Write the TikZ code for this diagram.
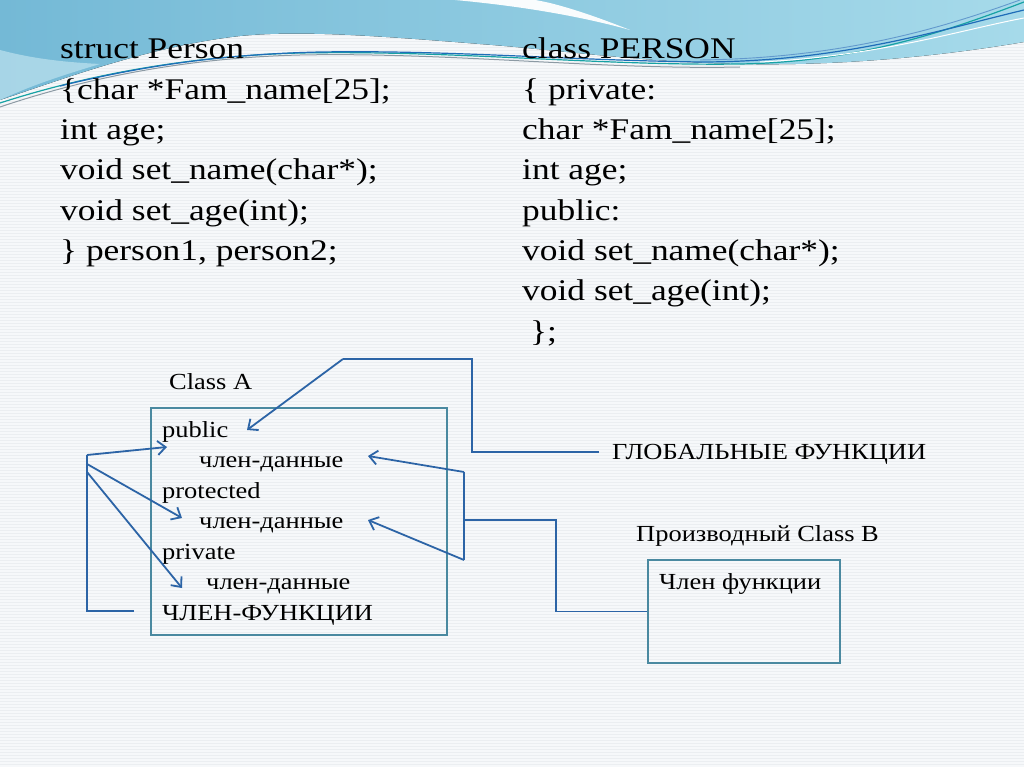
\documentclass[tikz,border=0pt]{standalone}
\usepackage{fontspec}
\setmainfont{Liberation Serif}[FakeStretch=1.15]
\newfontfamily\codefont{Liberation Serif}[FakeStretch=1.18]
\usetikzlibrary{arrows.meta,calc}
\definecolor{bg}{HTML}{F6F8FA}
\definecolor{bgline}{HTML}{EBEEF1}
\definecolor{boxc}{HTML}{4A89A0}
\definecolor{arrc}{HTML}{2C64A6}
\definecolor{waveA}{HTML}{74B9D6}
\definecolor{waveB}{HTML}{A6DAEA}
\definecolor{tealc}{HTML}{17A2A4}
\definecolor{bluec}{HTML}{1F6DB8}
\definecolor{grayc}{HTML}{8C9AA4}
\tikzset{
  code/.style={anchor=base west, inner sep=0pt, font=\codefont\fontsize{30}{36}\selectfont},
  small/.style={anchor=base west, inner sep=0pt, font=\fontsize{23}{28}\selectfont},
  boxA/.style={draw=boxc, line width=1.6pt, inner sep=0pt},
  conn/.style={draw=arrc, line width=1.8pt},
  arr/.style={conn, -{Straight Barb[length=8pt,width=14pt,line width=1.8pt]}},
}
\begin{document}
\begin{tikzpicture}[x=1pt,y=-1pt]
\useasboundingbox (0,0) rectangle (1024,767);
% background
\fill[bg] (0,0) rectangle (1024,767);
\foreach \yy in {2,5,...,767} \draw[bgline,line width=0.6pt] (0,\yy) -- (1024,\yy);
% wave
\fill[left color=waveA, right color=waveB]
  (0,0) -- (1024,0) -- (1024,42)
  .. controls (930,58) and (830,66) .. (740,64)
  .. controls (640,62) and (560,50) .. (480,44)
  .. controls (380,36) and (300,30) .. (240,36)
  .. controls (150,46) and (60,80) .. (0,100) -- cycle;
\fill[waveB!60!white, opacity=0.6] (0,100) .. controls (30,86) and (60,76) .. (100,64)
  .. controls (60,62) and (30,58) .. (0,50) -- cycle;
\fill[white, opacity=0.95] (455,0) .. controls (520,6) and (580,16) .. (630,30)
  .. controls (590,14) and (555,3) .. (535,0) -- cycle;
\draw[grayc, line width=1pt] (0,107) .. controls (80,80) and (180,58) .. (300,55)
  .. controls (450,52) and (600,70) .. (740,67);
\draw[tealc, line width=1.2pt] (0,103) .. controls (90,74) and (190,56) .. (300,53)
  .. controls (450,50) and (600,66) .. (740,64)
  .. controls (860,62) and (950,30) .. (1024,2);
\draw[bluec, line width=1.2pt] (60,86) .. controls (150,64) and (230,54) .. (320,52)
  .. controls (450,50) and (560,60) .. (700,62)
  .. controls (840,62) and (940,30) .. (1024,10);
\draw[bluec!70!white, line width=0.9pt] (700,60) .. controls (850,58) and (950,25) .. (1020,0);
\draw[white, line width=1pt] (760,62) .. controls (880,56) and (960,30) .. (1024,18);

% top left code
\node[code] (l1) at (60,59) {struct Person};
\node[code] (l2) at (60,99.3) {\{char *Fam\_name[25];};
\node[code] (l3) at (60,139.6) {int age;};
\node[code] (l4) at (60,179.9) {void set\_name(char*);};
\node[code] (l5) at (60,220.2) {void set\_age(int);};
\node[code] (l6) at (60,260.5) {\} person1, person2;};
% top right code
\node[code] (r1) at (522,59) {class PERSON};
\node[code] (r2) at (522,99.3) {\{ private:};
\node[code] (r3) at (522,139.6) {char *Fam\_name[25];};
\node[code] (r4) at (522,179.9) {int age;};
\node[code] (r5) at (522,220.2) {public:};
\node[code] (r6) at (522,260.5) {void set\_name(char*);};
\node[code] (r7) at (522,300.8) {void set\_age(int);};
\node[code] (r8) at (530,341.1) {\};};

% Class A
\node[small] (ca) at (169,389) {Class A};
\node[boxA, minimum width=296pt, minimum height=227pt] (A) at (299,521.5) {};
\node[small] (t1) at (162,437) {public};
\node[small] (t2) at (199,467.5) {член-данные};
\node[small] (t3) at (162,498) {protected};
\node[small] (t4) at (199,528.5) {член-данные};
\node[small] (t5) at (162,559) {private};
\node[small] (t6) at (206,589.5) {член-данные};
\node[small] (t7) at (162,620) {ЧЛЕН-ФУНКЦИИ};

% Class B
\node[small] (cb) at (636,541.7) {Производный Class B};
\node[boxA, minimum width=192pt, minimum height=103pt] (B) at (744,611.5) {};
\node[small] (bf) at (659,589.3) {Член функции};

% global functions
\node[small] (G) at (612,459.3) {ГЛОБАЛЬНЫЕ ФУНКЦИИ};

% left bracket
\coordinate (L1) at (87,455);
\coordinate (L2) at (87,464);
\coordinate (L3) at (87,472);
\coordinate (Lb) at (87,611);
\coordinate (Le) at (134,611);
\coordinate (T1) at (167,447);
\coordinate (T2) at (182,518);
\coordinate (T3) at (182,588);
\draw[conn] (Le) -- (Lb) -- (L1);
\draw[arr] (L1) -- (T1);
\draw[arr] (L2) -- (T2);
\draw[arr] (L3) -- (T3);

% right bracket
\coordinate (R1) at (464,472);
\coordinate (R2) at (464,560);
\coordinate (Rm) at (464,520);
\coordinate (U1) at (368,456);
\coordinate (U2) at (368,520);
\coordinate (K1) at (556,520);
\coordinate (K2) at (556,611.5);
\draw[conn] (R1) -- (R2);
\draw[arr] (R1) -- (U1);
\draw[arr] (R2) -- (U2);
\draw[conn] (Rm) -- (K1) -- (K2) -- (B.west);

% global connector
\coordinate (G0) at (599,452);
\coordinate (G1) at (472,452);
\coordinate (G2) at (472,359);
\coordinate (G3) at (343,359);
\coordinate (GT) at (247,430);
\draw[conn] (G0) -- (G1) -- (G2) -- (G3);
\draw[arr] (G3) -- (GT);
\end{tikzpicture}
\end{document}
